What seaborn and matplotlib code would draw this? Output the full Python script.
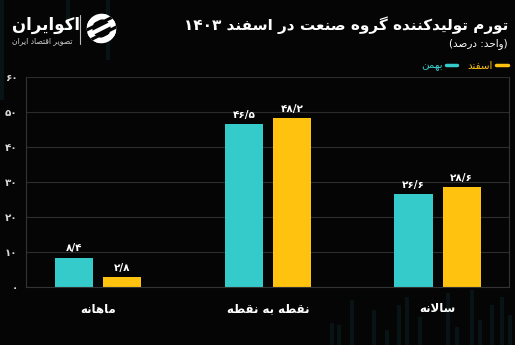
import re
import matplotlib
matplotlib.use("Agg")
import matplotlib.pyplot as plt
import seaborn as sns
import pandas as pd
from matplotlib.lines import Line2D
from matplotlib.patches import Rectangle, Circle

# ---------------- data ----------------
categories = ["ماهانه", "نقطه به نقطه", "سالانه"]
series_names = ["بهمن", "اسفند"]
bahman = [8.4, 46.5, 26.6]
esfand = [2.8, 48.2, 28.6]
y_ticks = [0, 10, 20, 30, 40, 50, 60]
title = "تورم تولیدکننده گروه صنعت در اسفند ۱۴۰۳"
subtitle = "(واحد: درصد)"
brand = "اکوایران"
brand_sub = "تصویر اقتصاد ایران"

# ---------------- minimal Persian shaping ----------------
FORMS = {
    "ا": (0xFE8D, 0xFE8E, None, None),
    "ب": (0xFE8F, 0xFE90, 0xFE91, 0xFE92),
    "پ": (0xFB56, 0xFB57, 0xFB58, 0xFB59),
    "ت": (0xFE95, 0xFE96, 0xFE97, 0xFE98),
    "ح": (0xFEA1, 0xFEA2, 0xFEA3, 0xFEA4),
    "د": (0xFEA9, 0xFEAA, None, None),
    "ر": (0xFEAD, 0xFEAE, None, None),
    "س": (0xFEB1, 0xFEB2, 0xFEB3, 0xFEB4),
    "ص": (0xFEB9, 0xFEBA, 0xFEBB, 0xFEBC),
    "ط": (0xFEC1, 0xFEC2, 0xFEC3, 0xFEC4),
    "ع": (0xFEC9, 0xFECA, 0xFECB, 0xFECC),
    "ف": (0xFED1, 0xFED2, 0xFED3, 0xFED4),
    "ق": (0xFED5, 0xFED6, 0xFED7, 0xFED8),
    "ل": (0xFEDD, 0xFEDE, 0xFEDF, 0xFEE0),
    "م": (0xFEE1, 0xFEE2, 0xFEE3, 0xFEE4),
    "ن": (0xFEE5, 0xFEE6, 0xFEE7, 0xFEE8),
    "ه": (0xFEE9, 0xFEEA, 0xFEEB, 0xFEEC),
    "و": (0xFEED, 0xFEEE, None, None),
    "ک": (0xFB8E, 0xFB8F, 0xFB90, 0xFB91),
    "گ": (0xFB92, 0xFB93, 0xFB94, 0xFB95),
    "ی": (0xFBFC, 0xFBFD, 0xFBFE, 0xFBFF),
}


def dual(c):
    return c in FORMS and FORMS[c][2] is not None


def shape(s):
    out = []
    i = 0
    n = len(s)
    while i < n:
        c = s[i]
        if c not in FORMS:
            out.append(c)
            i += 1
            continue
        prev = s[i - 1] if i > 0 else ""
        cp = dual(prev)
        if c == "ل" and i + 1 < n and s[i + 1] == "ا":
            out.append(chr(0xFEFC if cp else 0xFEFB))
            i += 2
            continue
        nxt = s[i + 1] if i + 1 < n else ""
        cn = dual(c) and nxt in FORMS
        iso, fin, ini, med = FORMS[c]
        if cp and cn:
            code = med
        elif cp:
            code = fin
        elif cn:
            code = ini
        else:
            code = iso
        out.append(chr(code))
        i += 1
    vis = "".join(out)[::-1]
    vis = re.sub(r"[۰-۹0-9/.]+", lambda m: m.group(0)[::-1], vis)
    vis = vis.translate(str.maketrans("()", ")("))
    return vis


def fa_num(v):
    s = ("%g" % v).replace(".", "/")
    return s.translate(str.maketrans("0123456789", "۰۱۲۳۴۵۶۷۸۹"))


# ---------------- frame ----------------
df = pd.DataFrame({
    "cat": [shape(c) for c in categories] * 2,
    "series": [series_names[0]] * 3 + [series_names[1]] * 3,
    "value": bahman + esfand,
})

BG = "#050505"
CYAN = "#36CBCB"
YELLOW = "#FFC20E"
STRIPE = "#081315"

sns.set_theme(style="dark")
plt.rcParams["font.family"] = ["DejaVu Sans"]

fig = plt.figure(figsize=(5.15, 3.45), dpi=100, facecolor=BG)

# faint decorative background stripes
for xs, h in [(330, 22), (337, 20), (350, 45), (372, 35), (385, 15), (397, 40),
              (405, 48), (418, 28), (446, 52), (455, 18), (470, 55), (478, 25),
              (490, 40), (500, 48), (508, 30)]:
    fig.add_artist(Rectangle((xs / 515, 0), 4 / 515, h / 345,
                             transform=fig.transFigure, color=STRIPE, lw=0,
                             zorder=0))
for xs, h in [(0, 100), (66, 28), (106, 60)]:
    fig.add_artist(Rectangle((xs / 515, 1 - h / 345), 4 / 515, h / 345,
                             transform=fig.transFigure, color=STRIPE, lw=0,
                             zorder=0))

ax = fig.add_axes([26 / 515, 1 - 287 / 345, (509 - 26) / 515, 210 / 345])
ax.set_facecolor(BG)

sns.barplot(data=df, x="cat", y="value", hue="series",
            hue_order=series_names, palette=[CYAN, YELLOW],
            width=0.566, gap=0.2, ax=ax, legend=False, saturation=1,
            linewidth=0, edgecolor="none")

ax.set_ylim(0, 60)
ax.set_xlim(-0.425, 2.42)
ax.set_yticks(y_ticks)
ax.set_yticklabels([fa_num(t) for t in y_ticks], color="#d8d8d8",
                   fontsize=7.5, fontweight="bold")
ax.tick_params(axis="y", length=0, pad=6)
ax.tick_params(axis="x", length=0, pad=11, labelsize=8.5, labelcolor="white")
for lab in ax.get_xticklabels():
    lab.set_fontweight("bold")
ax.set_xlabel("")
ax.set_ylabel("")
ax.grid(axis="y", color="#2c2c2c", linewidth=0.8)
ax.grid(axis="x", visible=False)
ax.set_axisbelow(True)
for side, sp in ax.spines.items():
    sp.set_visible(side != "top")
    sp.set_color("#333333")
    sp.set_linewidth(0.8)

for cont in ax.containers:
    ax.bar_label(cont, labels=[fa_num(v) for v in cont.datavalues],
                 padding=3, color="white", fontsize=7.5, fontweight="bold")

# ---------------- titles ----------------
fig.text(508 / 515, 1 - 25 / 345, shape(title), ha="right", va="center",
         color="white", fontsize=11, fontweight="bold")
fig.text(508 / 515, 1 - 44 / 345, shape(subtitle), ha="right", va="center",
         color="white", fontsize=7.5)

# ---------------- legend ----------------
handles = [Line2D([0], [0], color=CYAN, lw=2.5),
           Line2D([0], [0], color=YELLOW, lw=2.5)]
leg = fig.legend(handles, [shape(s) for s in series_names], ncol=2,
                 markerfirst=False, frameon=False, loc="center right",
                 bbox_to_anchor=(517 / 515, 1 - 66 / 345), fontsize=7.5,
                 handlelength=1.1, handletextpad=0.3, columnspacing=1.0)
for txt, col in zip(leg.get_texts(), [CYAN, YELLOW]):
    txt.set_color(col)

# ---------------- logo ----------------
fig.text(12 / 515, 1 - 25 / 345, shape(brand), ha="left", va="center",
         color="white", fontsize=12, fontweight="bold")
fig.text(12 / 515, 1 - 41 / 345, shape(brand_sub), ha="left", va="center",
         color="#cccccc", fontsize=5.5)
fig.add_artist(Line2D([80 / 515, 80 / 515], [1 - 15 / 345, 1 - 44 / 345],
                      color="#bbbbbb", lw=0.8))
logo = fig.add_axes([86 / 515, 1 - 44 / 345, 31 / 515, 31 / 345])
logo.set_axis_off()
logo.set_xlim(-1.05, 1.05)
logo.set_ylim(-1.05, 1.05)
logo.set_aspect("equal")
disk = Circle((0, 0), 1.0, color="white", lw=0)
logo.add_patch(disk)
logo.add_patch(Circle((0, 0), 0.62, color=BG, lw=0))
for k in (-0.5, 0.0, 0.5):
    ln, = logo.plot([-1.2, 1.2], [-0.6 + k * 1.6, 0.6 + k * 1.6],
                    color="white", lw=3.0, solid_capstyle="butt")
    ln.set_clip_path(disk)
for k in (-0.25, 0.25):
    ln, = logo.plot([-1.2, 1.2], [-0.6 + k * 1.6, 0.6 + k * 1.6],
                    color=BG, lw=2.2, solid_capstyle="butt")
    ln.set_clip_path(disk)

fig.savefig("out.png", dpi=100, facecolor=BG)
